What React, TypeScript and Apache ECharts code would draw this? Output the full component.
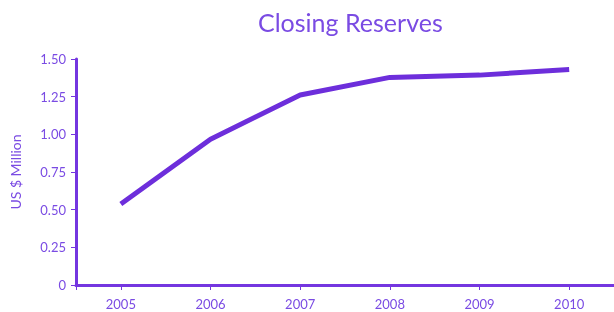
import React, { useEffect, useRef } from "react";
import * as echarts from "echarts";

const years = [2005, 2006, 2007, 2008, 2009, 2010];
const reserves = [0.537, 0.967, 1.261, 1.378, 1.393, 1.431];
const tickYears = [2004.5, 2005, 2006, 2007, 2008, 2009, 2010];
const yMin = 0;
const yMax = 1.5;
const yStep = 0.25;

const textColor = "#7a4be3";
const axisColor = "#7436e0";
const lineColor = "#6d2edb";
const font = "Lato, 'Open Sans', sans-serif";

export default function App() {
  const ref = useRef<HTMLDivElement>(null);
  useEffect(() => {
    if (!ref.current) return;
    const chart = echarts.init(ref.current, undefined, { renderer: "svg" });
    chart.setOption({
      animation: false,
      title: {
        text: "Closing Reserves",
        left: 253,
        top: 4,
        textStyle: { color: textColor, fontSize: 25, fontWeight: "normal", fontFamily: font },
      },
      grid: { left: 71, right: -2, top: 59, bottom: 27, containLabel: false },
      xAxis: {
        type: "value",
        min: 2004.5,
        max: 2010.5,
        splitLine: { show: false },
        axisLine: { show: true, lineStyle: { color: axisColor, width: 3 } },
        axisTick: { show: true, customValues: tickYears, length: 5, lineStyle: { color: axisColor, width: 1 } },
        axisLabel: {
          customValues: years,
          color: textColor,
          fontSize: 13,
          fontFamily: font,
          margin: 12,
          formatter: (v: number) => String(v),
        },
      },
      yAxis: {
        type: "value",
        min: yMin,
        max: yMax,
        interval: yStep,
        name: "US $ Million",
        nameLocation: "middle",
        nameGap: 54,
        nameTextStyle: { color: textColor, fontSize: 14, fontFamily: font },
        splitLine: { show: false },
        axisLine: { show: true, lineStyle: { color: axisColor, width: 3 } },
        axisTick: { show: true, length: 5, lineStyle: { color: axisColor, width: 1 } },
        axisLabel: {
          color: textColor,
          fontSize: 13,
          fontFamily: font,
          margin: 10,
          formatter: (v: number) => (v === 0 ? "0" : v.toFixed(2)),
        },
      },
      series: [
        {
          type: "line",
          data: years.map((y, i) => [y, reserves[i]]),
          showSymbol: false,
          symbol: "none",
          lineStyle: { color: lineColor, width: 5 },
        },
      ],
    });
    return () => chart.dispose();
  }, []);
  return <div ref={ref} style={{ position: "fixed", left: 0, top: 0, width: 614, height: 312 }} />;
}
